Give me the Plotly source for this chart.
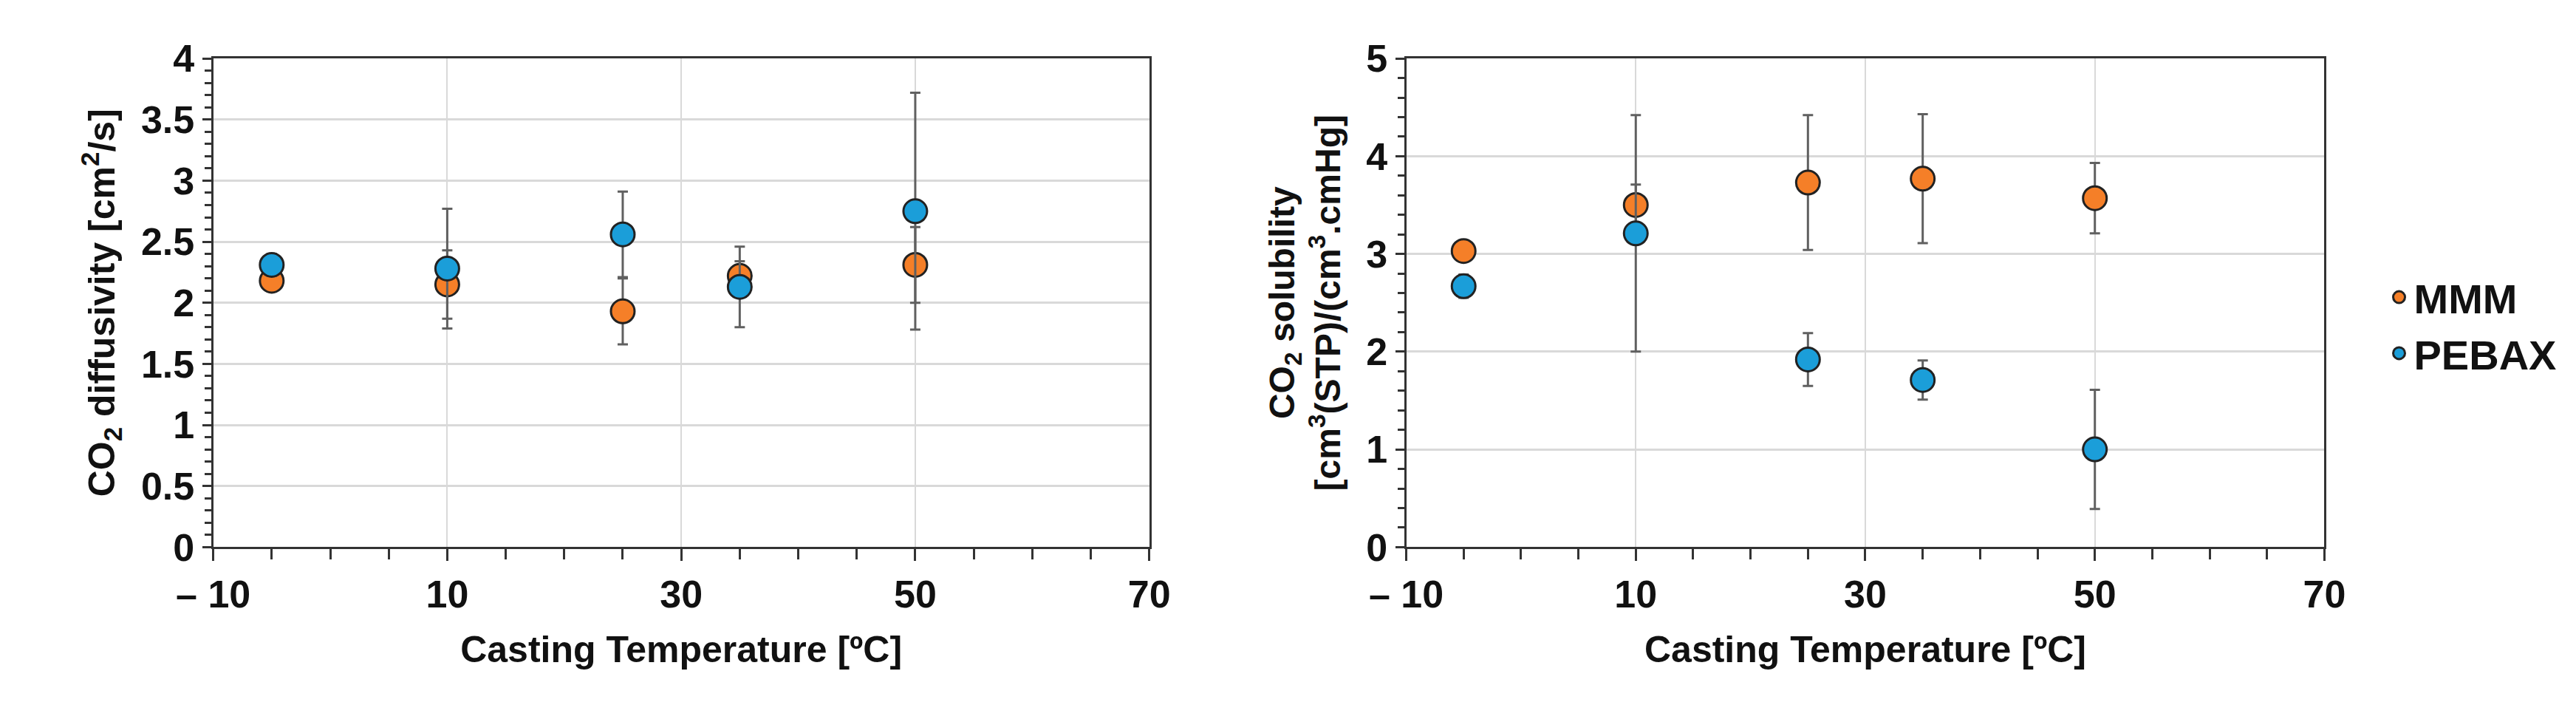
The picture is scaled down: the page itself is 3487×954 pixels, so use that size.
import plotly.graph_objects as go

temps = [-5, 10, 25, 35, 50]
diff_mmm = [2.18, 2.15, 1.93, 2.22, 2.31]
diff_mmm_err = [0.04, 0.28, 0.27, 0.12, 0.31]
diff_pebax = [2.31, 2.28, 2.56, 2.13, 2.75]
diff_pebax_err = [0.09, 0.49, 0.35, 0.33, 0.97]
sol_mmm = [3.03, 3.50, 3.73, 3.77, 3.57]
sol_mmm_err = [0.04, 0.21, 0.69, 0.66, 0.36]
sol_pebax = [2.67, 3.21, 1.92, 1.71, 1.00]
sol_pebax_err = [0.12, 1.21, 0.27, 0.20, 0.61]
xticks = [-10, 10, 30, 50, 70]
xticktext = ["\u2013 10", "10", "30", "50", "70"]

ORANGE = "#F57F28"
BLUE = "#1B9ED9"
FONT = "Liberation Sans Narrow, Liberation Sans, Arial"

fig = go.Figure()

def add(x, y, err, color, name, xa, ya, show):
    fig.add_trace(go.Scatter(
        x=x, y=y, mode="markers", name=name, showlegend=show,
        xaxis=xa, yaxis=ya,
        marker=dict(size=32, color=color, line=dict(color="#222222", width=3)),
        error_y=dict(type="data", array=err, visible=True, color="#606060", thickness=3, width=7),
    ))

add(temps, diff_mmm, diff_mmm_err, ORANGE, "MMM", "x", "y", True)
add(temps, diff_pebax, diff_pebax_err, BLUE, "PEBAX", "x", "y", True)
add(temps, sol_mmm, sol_mmm_err, ORANGE, "MMM", "x2", "y2", False)
add(temps, sol_pebax, sol_pebax_err, BLUE, "PEBAX", "x2", "y2", False)

TF = dict(family=FONT, size=52, color="#111", weight="bold")
xcommon = dict(range=[-10, 70], tickvals=xticks, ticktext=xticktext,
               showgrid=True, gridcolor="#D9D9D9", gridwidth=2,
               showline=True, linecolor="#333333", linewidth=3, mirror=True,
               ticks="outside", ticklen=16, tickwidth=3, tickcolor="#333333",
               minor=dict(dtick=5, tick0=0, ticks="outside", ticklen=14, tickwidth=3, tickcolor="#333333", showgrid=False),
               tickfont=TF, zeroline=False,
               title=dict(text="<b>Casting Temperature [ºC]</b>", font=dict(family=FONT, size=50, color="#111"), standoff=30))
ycommon = dict(showgrid=True, gridcolor="#D9D9D9", gridwidth=3,
               showline=True, linecolor="#333333", linewidth=3, mirror=True,
               ticks="outside", ticklen=12, tickwidth=3, tickcolor="#333333",
               tickfont=TF, zeroline=False)

fig.update_layout(
    width=3487, height=954, paper_bgcolor="white", plot_bgcolor="white",
    margin=dict(l=0, r=0, t=0, b=0),
    xaxis=dict(domain=[0.0674, 0.4393], anchor="y", **xcommon),
    xaxis2=dict(domain=[0.5414, 0.9062], anchor="y2", **xcommon),
    yaxis=dict(domain=[0.215, 0.953], anchor="x", range=[0, 4], dtick=0.5,
               minor=dict(dtick=0.1, ticks="outside", ticklen=9, tickwidth=3, tickcolor="#333333", showgrid=False),
               title=dict(text="<b>CO<sub>2</sub> diffusivity [cm<sup>2</sup>/s]</b>", font=dict(family=FONT, size=50, color="#111"), standoff=20),
               **ycommon),
    yaxis2=dict(domain=[0.215, 0.953], anchor="x2", range=[0, 5], dtick=1,
                minor=dict(dtick=0.2, ticks="outside", ticklen=9, tickwidth=3, tickcolor="#333333", showgrid=False),
                title=dict(text="<b>CO<sub>2</sub> solubility<br>[cm<sup>3</sup>(STP)/(cm<sup>3</sup>.cmHg]</b>", font=dict(family=FONT, size=48, color="#111"), standoff=20),
                **ycommon),
    legend=dict(x=0.93, y=0.55, xanchor="left", yanchor="middle", tracegroupgap=0,
                itemsizing="trace", bgcolor="rgba(0,0,0,0)",
                font=dict(family=FONT, size=56, color="#111", weight="bold")),
)

fig.write_html("out.html")
